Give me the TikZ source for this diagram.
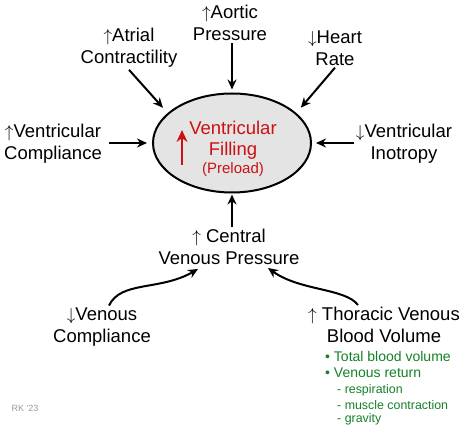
\documentclass[tikz,border=0pt]{standalone}
\usepackage{fontspec}
\setmainfont{Liberation Sans}
\usetikzlibrary{arrows.meta,shapes.geometric,calc}
\definecolor{blush}{RGB}{204,16,20}
\definecolor{moss}{RGB}{20,128,40}
\definecolor{shell}{RGB}{228,228,228}
\newcommand{\up}{$\uparrow$}
\newcommand{\down}{$\downarrow$}
\tikzset{
  >={Stealth[length=10pt,width=9pt]},
  factor/.style={font=\fontsize{18.5}{22}\selectfont,align=center,inner sep=2pt},
  flow/.style={->,line width=2pt,draw=#1},
  flow/.default=black,
  chamber/.style={ellipse,draw=black,line width=2pt,fill=shell,
    minimum width=158pt,minimum height=99pt},
  note/.style={font=\fontsize{14}{17}\selectfont,text=moss,anchor=west,inner sep=0pt},
  subnote/.style={font=\fontsize{12.4}{15}\selectfont,text=moss,anchor=west,inner sep=0pt},
}

\begin{document}
\begin{tikzpicture}[x=1pt,y=-1pt]
  \path[use as bounding box] (0,0) rectangle (469,430);
  % centre
  \node[chamber] (filling) at (232,143) {};
  \node[font=\fontsize{18.5}{21}\selectfont,text=blush,align=center] (fillname) at (233,149)
    {Ventricular\\Filling\\[-3pt]{\fontsize{15}{15}\selectfont(Preload)}};
  \draw[-{Stealth[length=12pt,width=11pt]},line width=2.6pt,blush]
    ($(filling)+(-50,22)$) -- ($(filling)+(-50,-13)$);
  % factors
  \node[factor] (atrial) at (129,48) {\up Atrial\\Contractility};
  \node[factor] (aortic) at (230,23) {\up Aortic\\Pressure};
  \node[factor] (heart) at (335,48) {\down Heart\\Rate};
  \node[factor] (vcomp) at (53,144) {\up Ventricular\\Compliance};
  \node[factor] (inotropy) at (404,144) {\down Ventricular\\Inotropy};
  \node[factor] (cvp) at (229,247) {\up\ Central\\Venous Pressure};
  \node[factor] (vencomp) at (102,327) {\down Venous\\Compliance};
  \node[factor] (thoracic) at (384,325) {\up\ Thoracic Venous\\Blood Volume};
  % arrows
  \draw[flow,shorten >=7pt] (atrial.south) -- (filling.155);
  \draw[flow,shorten >=3pt] (aortic.south -| filling.north) -- (filling.north);
  \draw[flow,shorten >=7pt] (heart.south) -- (filling.25);
  \draw[flow,shorten >=5pt] ([xshift=5pt]vcomp.east |- filling.west) -- (filling.west);
  \draw[flow,shorten >=4pt] (inotropy.west |- filling.east) -- (filling.east);
  \draw[flow,shorten >=1pt] (cvp.north -| filling.south) -- (filling.south);
  \draw[flow] ([xshift=7pt]vencomp.north)
    .. controls ($(vencomp.north)+(19,-25)$) and ($(cvp.south)+(-69,24)$)
    .. ([xshift=-31pt,yshift=-2pt]cvp.south);
  \draw[flow] ([xshift=-26pt]thoracic.north)
    .. controls ($(thoracic.north)+(-39,-17)$) and ($(cvp.south)+(71,24)$)
    .. ([xshift=39pt,yshift=-1pt]cvp.south);
  % green list
  \foreach \n/\y/\t in {total/356/Total blood volume, venret/373/Venous return}
    \node[note] (\n) at (325,\y) {\textbullet\ \t};
  \foreach \n/\y/\t in {resp/390/respiration, muscle/405/muscle contraction, grav/419/gravity}
    \node[subnote] (\n) at (337,\y) {- \t};
  \node[font=\fontsize{9}{9}\selectfont,text=black!40] (sig) at (25,408) {RK \textquotesingle 23};
\end{tikzpicture}
\end{document}
